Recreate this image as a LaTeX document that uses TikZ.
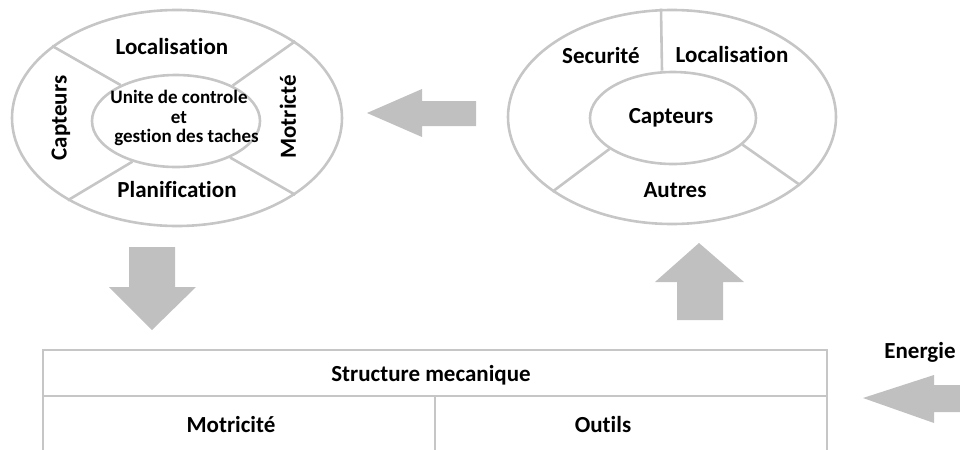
\documentclass[tikz,border=0pt]{standalone}
\usepackage{fontspec}
\setmainfont{Carlito}[Ligatures=NoCommon]
\usepackage{xcolor}
\usepackage{tikz}
\usetikzlibrary{shapes,arrows,positioning,calc}

\definecolor{ringgray}{RGB}{198,198,198}
\definecolor{arrowgray}{RGB}{192,192,192}

\tikzset{
    ring/.style={ellipse, draw=ringgray, line width=1.3pt, inner sep=0pt},
    divider/.style={draw=ringgray, line width=1.3pt},
    lbl/.style={font=\bfseries\fontsize{11.5}{14}\selectfont, inner sep=0pt},
    smalllbl/.style={font=\bfseries\fontsize{9.5}{9.8}\selectfont, align=center, inner sep=0pt},
    blockarrow/.style={fill=arrowgray}
}

\begin{document}
\begin{tikzpicture}[x=0.5pt, y=-0.5pt]
    \useasboundingbox (0,0) rectangle (960,450);

    % Left ring
    \node [ring, minimum width=165pt, minimum height=108pt] (outL) at (177,118) {};
    \node [ring, minimum width=84pt, minimum height=46pt] (inL) at (176,121) {};
    \draw [divider] (inL.147) -- (outL.150);
    \draw [divider] (inL.32) -- (outL.33);
    \draw [divider] (inL.223) -- (outL.217);
    \draw [divider] (inL.326) -- (outL.327);
    \node [lbl] (locL) at (172,47) {Localisation};
    \node [lbl] (planL) at (177,190) {Planification};
    \node [lbl, rotate=90] (captL) at (61,118) {Capteurs};
    \node [lbl, rotate=90] (motL) at (288,117) {Motricté};
    \node [smalllbl] (unite) at (179,118) {Unite de controle\\et\hspace*{5pt}\\\hspace*{7.5pt}gestion des taches};

    % Right ring
    \node [ring, minimum width=164pt, minimum height=107pt] (outR) at (672,117) {};
    \node [ring, minimum width=83pt, minimum height=46pt] (inR) at (673,118) {};
    \draw [divider] ([xshift=-5.5pt]inR.north) -- ([xshift=-5.5pt]outR.north);
    \draw [divider] (inR.206) -- (outR.212);
    \draw [divider] (inR.339) -- (outR.332);
    \node [lbl] (secR) at (601,56) {Securité};
    \node [lbl] (locR) at (732,55) {Localisation};
    \node [lbl] (captR) at (671,118) {Capteurs};
    \node [lbl] (autres) at (675,190) {Autres};

    % Block arrows
    \fill [blockarrow] (476,101) -- (422,101) -- (422,89) -- (367,113) -- (422,137) -- (422,126) -- (476,126) -- cycle;
    \fill [blockarrow] (129,247) -- (175,247) -- (175,287) -- (196,287) -- (152,330) -- (109,287) -- (129,287) -- cycle;
    \fill [blockarrow] (677,320) -- (723,320) -- (723,282) -- (744,282) -- (699,243) -- (655,282) -- (677,282) -- cycle;
    \fill [blockarrow] (966,385) -- (934,385) -- (934,375) -- (863,398) -- (934,423) -- (934,412) -- (966,412) -- cycle;
    \node [lbl] (energie) at (920,352) {Energie};

    % Mechanical structure
    \draw [divider] (43,454) -- (43,350) -- (827,350) -- (827,454);
    \draw [divider] (43,396) -- (827,396);
    \draw [divider] (435,396) -- (435,454);
    \node [lbl] (struct) at (431,375) {Structure mecanique};
    \node [lbl] (motB) at (231,425) {Motricité};
    \node [lbl] (outils) at (603,425) {Outils};
\end{tikzpicture}
\end{document}
